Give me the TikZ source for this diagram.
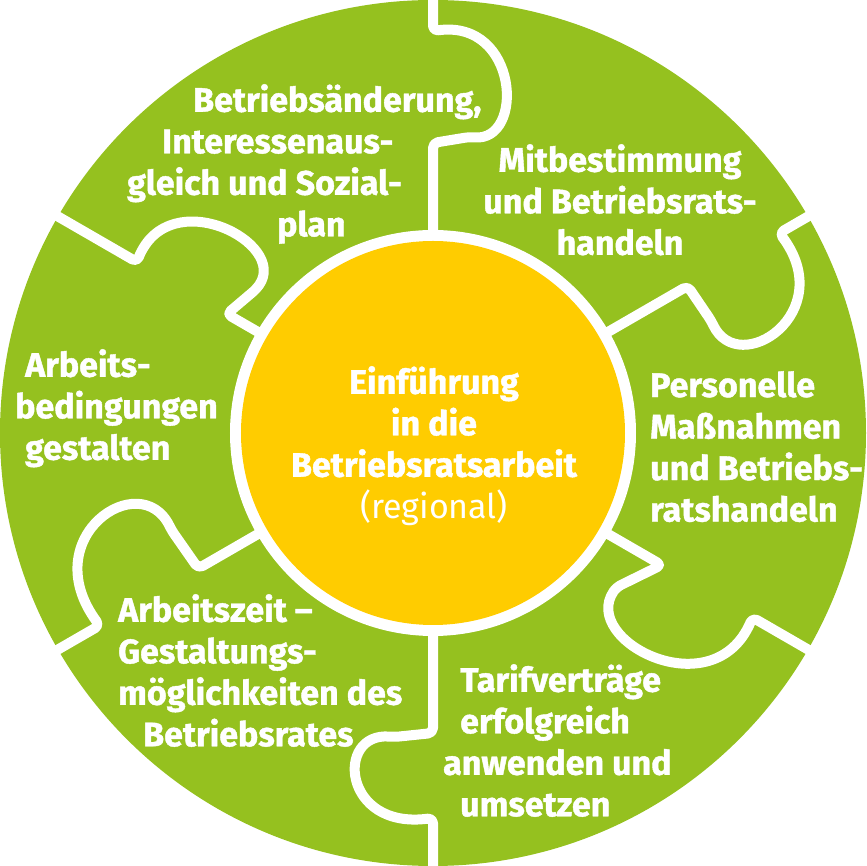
\documentclass[tikz,border=0pt]{standalone}
\usepackage{fontspec}
\setmainfont{Fira Sans}[BoldFeatures={FakeBold=1.2}]

\definecolor{puzzlegreen}{RGB}{149,193,31}
\definecolor{hubyellow}{RGB}{255,204,0}

\begin{document}
\begin{tikzpicture}[
  x=1pt, y=1pt,
  font=\fontsize{34}{41.5}\selectfont\bfseries,
  cut/.style={draw=white, line width=10pt, line join=round, rounded corners=5pt},
  txt/.style={text=white, inner sep=0pt, align=left, anchor=north west},
  hub/.style={txt, align=center, anchor=north}
]
\useasboundingbox (-433,-433) rectangle (434,433);

% disc and centre
\fill[puzzlegreen] (0,0) circle (433);
\fill[white] (0,0) circle (203);
\fill[hubyellow] (0,0) circle (192);

% puzzle cuts: angle / neck / jog / end / width
\foreach \ang/\a/\j/\b/\w in {90/290/296/402/66, 30/294/297/400/76,
    -30/264/236/369/76, -90/300/304/385/70, 210/271/275/385/84, 150/238/225/342/66}
  \draw[cut, rotate=\ang] (196,0) -- (\a,0) -- (\j,{-0.55*\w})
    .. controls ({\j-5},{-1.4*\w}) and ({\b+12},{-1.3*\w}) .. (\b,0) -- (470,0);

% texts
\node[hub] (intro) at (1,67) {Einführung\\ in die\\ Betriebsratsarbeit\\ {\mdseries (regional)}};
\node[txt] (change) at (-306,349) {\hspace*{66pt}Betriebsänderung,\\
  \hspace*{35pt}Interessenaus-\\ gleich und Sozial-\\ \hspace*{150pt}plan};
\node[hub] (codet) at (187,289) {Mitbestimmung\\ und Betriebsrats-\\ handeln};
\node[txt] (staff) at (217,62) {Personelle\\ Maßnahmen\\ und Betriebs-\\ ratshandeln};
\node[txt] (tariff) at (10,-231) {\hspace*{17pt}Tarifverträge\\ \hspace*{17pt}erfolgreich\\
  anwenden und\\ \hspace*{17pt}umsetzen};
\node[txt] (worktime) at (-315,-161) {Arbeitszeit –\\ Gestaltungs-\\ möglichkeiten des\\
  \hspace*{25pt}Betriebsrates};
\node[txt] (conds) at (-418,84) {\hspace*{10pt}Arbeits-\\ bedingungen\\ \hspace*{10pt}gestalten};
\end{tikzpicture}
\end{document}
